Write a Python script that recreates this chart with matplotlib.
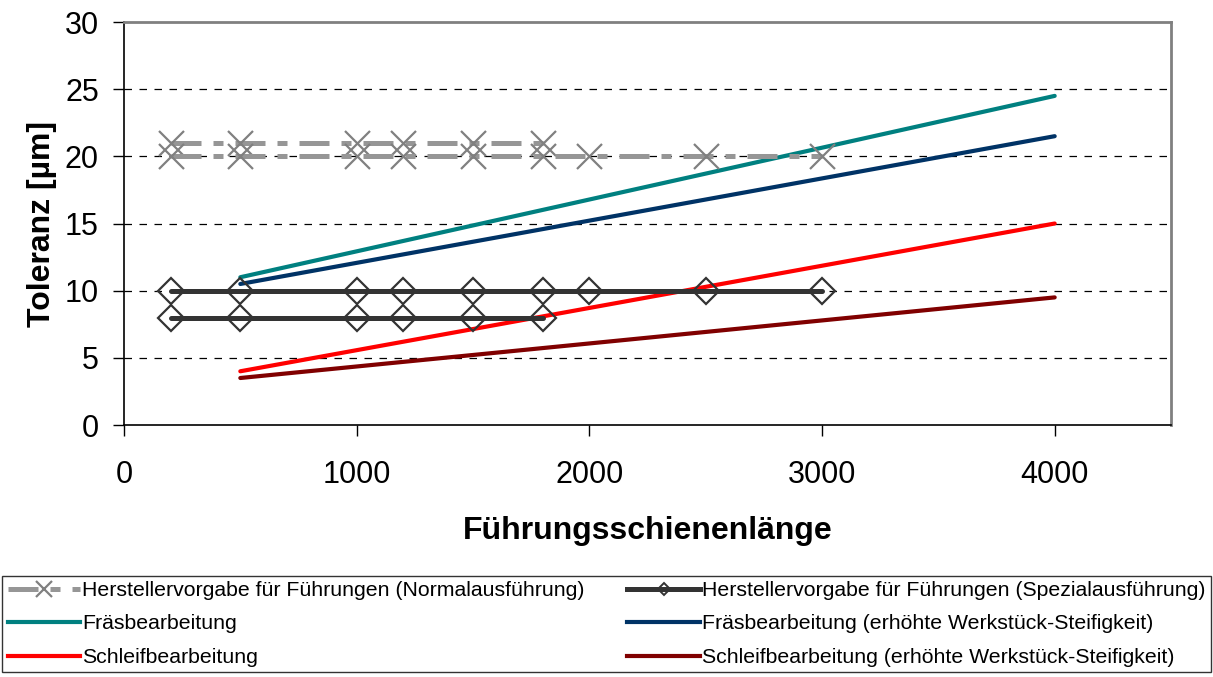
import matplotlib.pyplot as plt
from matplotlib.lines import Line2D

plt.rcParams['font.family'] = ['Liberation Sans', 'DejaVu Sans']

# Herstellervorgabe Normalausführung (two tolerance levels)
norm_x_hi = [200, 500, 1000, 1200, 1500, 1800]
norm_y_hi = [21, 21, 21, 21, 21, 21]
norm_x_lo = [200, 500, 1000, 1200, 1500, 1800, 2000, 2500, 3000]
norm_y_lo = [20, 20, 20, 20, 20, 20, 20, 20, 20]

# Herstellervorgabe Spezialausführung
spez_x_hi = [200, 500, 1000, 1200, 1500, 1800, 2000, 2500, 3000]
spez_y_hi = [10, 10, 10, 10, 10, 10, 10, 10, 10]
spez_x_lo = [200, 500, 1000, 1200, 1500, 1800]
spez_y_lo = [8, 8, 8, 8, 8, 8]

# machining results
bearb_x = [500, 4000]
fraes_y = [11.0, 24.5]
fraes_steif_y = [10.5, 21.5]
schleif_y = [4.0, 15.0]
schleif_steif_y = [3.5, 9.5]

labels = [
    'Herstellervorgabe für Führungen (Normalausführung)',
    'Herstellervorgabe für Führungen (Spezialausführung)',
    'Fräsbearbeitung',
    'Fräsbearbeitung (erhöhte Werkstück-Steifigkeit)',
    'Schleifbearbeitung',
    'Schleifbearbeitung (erhöhte Werkstück-Steifigkeit)',
]

fig = plt.figure(figsize=(12.13, 6.77), dpi=100)
ax = fig.add_axes([0.1022, 0.3722, 0.8632, 0.5953])

gray_style = dict(color='#969696', lw=3.6, dashes=(6, 2.4, 2, 2.4),
                  marker='x', ms=18, mec='#808080', mew=1.6, zorder=3)
ax.plot(norm_x_hi, norm_y_hi, **gray_style)
ax.plot(norm_x_lo, norm_y_lo, **gray_style)

dark_style = dict(color='#333333', lw=3.6, marker='D', ms=13,
                  mfc='none', mec='#333333', mew=1.6, zorder=3,
                  solid_capstyle='round')
ax.plot(spez_x_hi, spez_y_hi, **dark_style)
ax.plot(spez_x_lo, spez_y_lo, **dark_style)

ax.plot(bearb_x, fraes_y, color='#008080', lw=3, solid_capstyle='round')
ax.plot(bearb_x, fraes_steif_y, color='#003366', lw=3, solid_capstyle='round')
ax.plot(bearb_x, schleif_y, color='#FF0000', lw=3, solid_capstyle='round')
ax.plot(bearb_x, schleif_steif_y, color='#800000', lw=3, solid_capstyle='round')

ax.set_xlim(0, 4500)
ax.set_ylim(0, 30)
ax.set_xticks([0, 1000, 2000, 3000, 4000])
ax.set_yticks([0, 5, 10, 15, 20, 25, 30])
ax.tick_params(labelsize=22, length=8, width=1, direction='out')
ax.tick_params(axis='x', pad=17)
ax.tick_params(axis='y', pad=10)
for y in [5, 10, 15, 20, 25]:
    ax.axhline(y, color='black', lw=0.9, dashes=(6, 6), zorder=1)

for s in ['top', 'right']:
    ax.spines[s].set_color('#808080')
    ax.spines[s].set_linewidth(2)
for s in ['left', 'bottom']:
    ax.spines[s].set_color('black')
    ax.spines[s].set_linewidth(1.2)

ax.set_xlabel('Führungsschienenlänge', fontsize=23, fontweight='bold', labelpad=19)
ax.set_ylabel('Toleranz [µm]', fontsize=23, fontweight='bold', labelpad=6)

# legend, filled column-wise
h_norm = Line2D([], [], color='#969696', lw=3.6, dashes=(6, 2.4, 2, 2.4),
                marker='x', ms=12, mec='#808080', mew=1.6, markevery=[1])
h_spez = Line2D([], [], color='#333333', lw=3.6, marker='D', ms=6,
                mfc='none', mec='#333333', mew=1.4, markevery=[1])
h_fr = Line2D([], [], color='#008080', lw=3)
h_frs = Line2D([], [], color='#003366', lw=3)
h_sc = Line2D([], [], color='#FF0000', lw=3)
h_scs = Line2D([], [], color='#800000', lw=3)

leg = fig.legend([h_norm, h_fr, h_sc, h_spez, h_frs, h_scs],
                 [labels[0], labels[2], labels[4], labels[1], labels[3], labels[5]],
                 loc='lower left', bbox_to_anchor=(0.002, 0.007, 0.996, 0.14),
                 mode='expand', ncol=2, fontsize=15.3, handlelength=3.4,
                 handletextpad=0.1, labelspacing=0.68, columnspacing=0.3,
                 borderaxespad=0, fancybox=False, borderpad=0.25)
leg.get_frame().set_edgecolor('black')
leg.get_frame().set_linewidth(1)

fig.savefig('out.png', dpi=100)
